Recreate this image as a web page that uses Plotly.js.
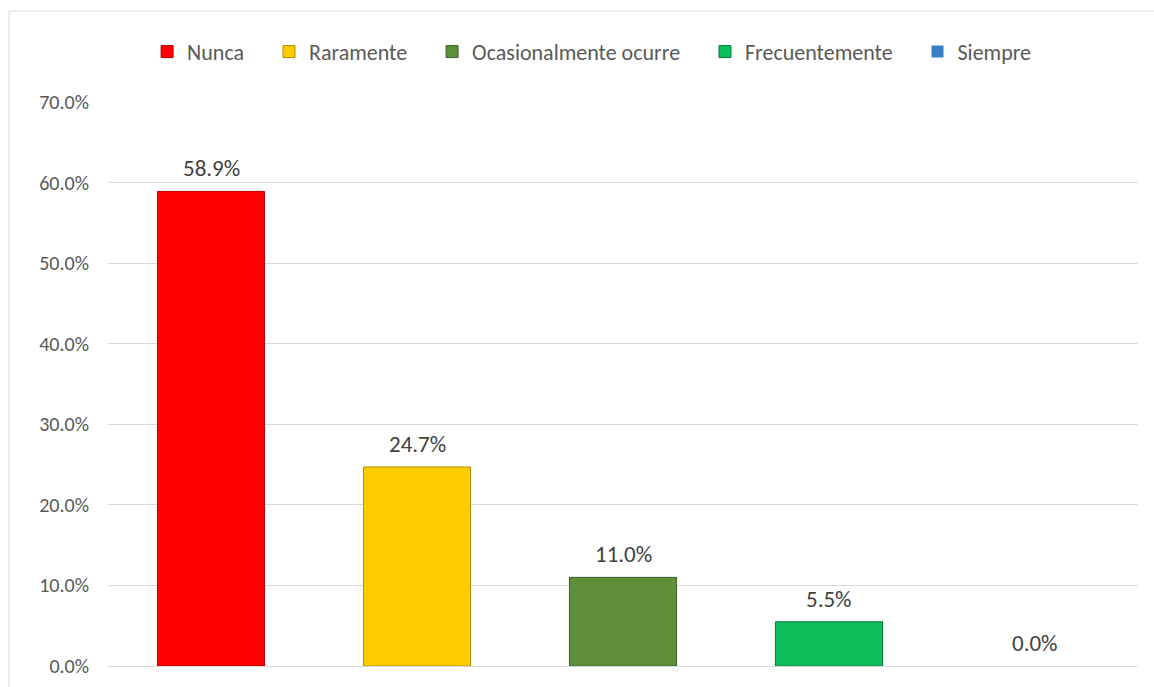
<!DOCTYPE html>
<html><head><meta charset="utf-8">
<script src="https://cdn.plot.ly/plotly-3.0.1.min.js"></script>
<style>html,body{margin:0;padding:0;background:#fff;}#chart{width:1154px;height:687px;}</style>
</head><body><div id="chart"></div>
<script>
const categories = ["Nunca", "Raramente", "Ocasionalmente ocurre", "Frecuentemente", "Siempre"];
const values = [58.9, 24.7, 11.0, 5.5, 0.0];
const colors = ["#FF0000", "#FFCC00", "#5E8F3A", "#0DBF5C", "#3A7FC4"];
const edgeColors = ["#B00000", "#B08C00", "#3D5E25", "#077A3A", "#24558A"];
const yTicks = [0, 10, 20, 30, 40, 50, 60, 70];
const FONT = "Carlito, Calibri, Lato, 'Open Sans', sans-serif";
const PAD = "\u00a0\u00a0\u00a0\u00a0";

const traces = categories.map((c, i) => ({
  type: "bar",
  name: i < categories.length - 1 ? c + PAD : c,
  x: [c],
  y: [values[i]],
  marker: {color: colors[i], line: {color: edgeColors[i], width: values[i] > 0 ? 1 : 0}},
  width: 0.52,
  hoverinfo: "skip"
}));

const annotations = categories.map((c, i) => ({
  x: c, y: values[i], xref: "x", yref: "y",
  text: values[i].toFixed(1) + "%",
  showarrow: false, yanchor: "middle", yshift: 23,
  font: {family: FONT, size: 23, color: "#404040"}
}));

const layout = {
  width: 1154, height: 687,
  margin: {l: 108, r: 16, t: 102, b: 21},
  paper_bgcolor: "#fff", plot_bgcolor: "#fff",
  barmode: "overlay",
  font: {family: FONT, size: 20, color: "#595959"},
  showlegend: true,
  legend: {orientation: "h", x: 0.47, xanchor: "center", y: 1.089, yanchor: "middle",
           font: {family: FONT, size: 22, color: "#595959"}, itemwidth: 30, traceorder: "normal"},
  xaxis: {type: "category", categoryarray: categories, showticklabels: false, showgrid: false,
          zeroline: false, showline: false, ticks: "", fixedrange: true},
  yaxis: {range: [0, 70], tickvals: yTicks, ticktext: yTicks.map(v => v.toFixed(1) + "%"),
          showgrid: true, gridcolor: "#D9D9D9", gridwidth: 1, zeroline: true, zerolinecolor: "#D9D9D9",
          zerolinewidth: 1, showline: false, ticks: "", ticklabelstandoff: 18,
          tickfont: {family: FONT, size: 20, color: "#595959"}},
  annotations: annotations,
  shapes: [{type: "rect", xref: "paper", yref: "paper", x0: -0.0961, x1: 1.3, y0: -0.3, y1: 1.1613,
            line: {color: "#D9D9D9", width: 1}, fillcolor: "rgba(0,0,0,0)", layer: "below"}]
};

Plotly.newPlot("chart", traces, layout, {staticPlot: true, displayModeBar: false});
</script></body></html>
